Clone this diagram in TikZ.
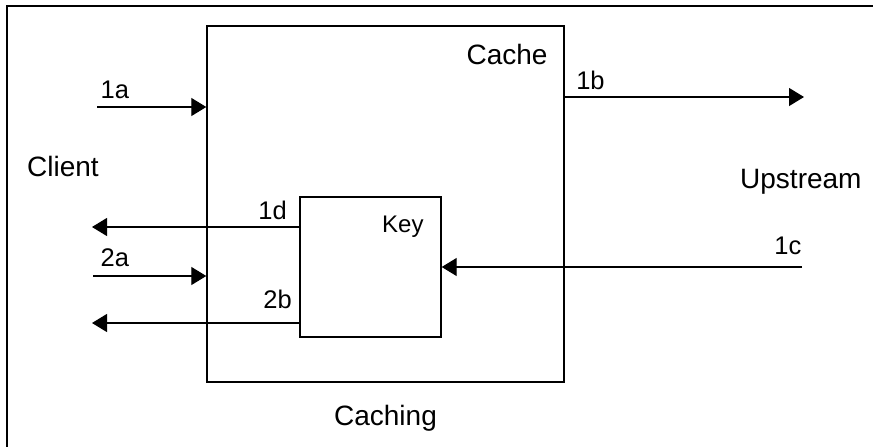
\documentclass[tikz,border=0pt]{standalone}
\usepackage{fontspec}
\setmainfont{Liberation Sans}
\usepackage{tikz}
\usetikzlibrary{positioning,arrows.meta}

\begin{document}
\begin{tikzpicture}[
    x=1pt, y=-1pt,
    frame/.style={draw, line width=2pt},
    box/.style={rectangle, draw, line width=1.4pt, inner sep=0pt},
    title/.style={inner sep=0pt, font=\fontsize{28}{30}\selectfont},
    lbl/.style={inner sep=0pt, font=\fontsize{25.5}{27}\selectfont},
    line/.style={draw, line width=1.2pt, -{Triangle[length=15pt,width=18pt]}}
]
\useasboundingbox (0,0) rectangle (873,447);

% Outer frame (only top and left edges in view)
\draw[frame] (7,447) -- (7,6) -- (873,6);

% Boxes
\node[box, minimum width=357pt, minimum height=356pt] (cache) at (385.5,204) {};
\node[box, minimum width=141pt, minimum height=140pt] (key) at (370.5,267) {};

% Texts
\node[title, anchor=base east] (cachetxt) at ([xshift=-17pt, yshift=-39pt] cache.north east) {Cache};
\node[lbl, font=\fontsize{24}{26}\selectfont, anchor=base east] (keytxt) at ([xshift=-18pt, yshift=-36pt] key.north east) {Key};
\node[title, anchor=base] (cachingtxt) at ([yshift=-43pt] cache.south) {Caching};
\node[title, anchor=base west] (client) at (27,176) {Client};
\node[title, anchor=base west] (upstream) at (740,188) {Upstream};

% Free arrow ends
\coordinate (in1a) at (97,107);
\coordinate (out1b) at (804,97);
\coordinate (in1c) at (802,267);
\coordinate (out1d) at (92,227);
\coordinate (in2a) at (93,276);
\coordinate (out2b) at (92,323);

% Request 1
\draw[line] (in1a) node[lbl, above right=8pt and 3pt] (l1a) {1a} -- (in1a -| cache.west);
\draw[line] (out1b -| cache.east) node[lbl, above right=7pt and 11pt] (l1b) {1b} -- (out1b);
\draw[line] (in1c) node[lbl, above left=12pt and 0pt] (l1c) {1c} -- (key.east);
\draw[line] (out1d -| key.west) node[lbl, above left=7pt and 12pt] (l1d) {1d} -- (out1d);

% Request 2
\draw[line] (in2a) node[lbl, above right=9pt and 7pt] (l2a) {2a} -- (in2a -| cache.west);
\draw[line] (out2b -| key.west) node[lbl, above left=14pt and 7pt] (l2b) {2b} -- (out2b);

\end{tikzpicture}
\end{document}
